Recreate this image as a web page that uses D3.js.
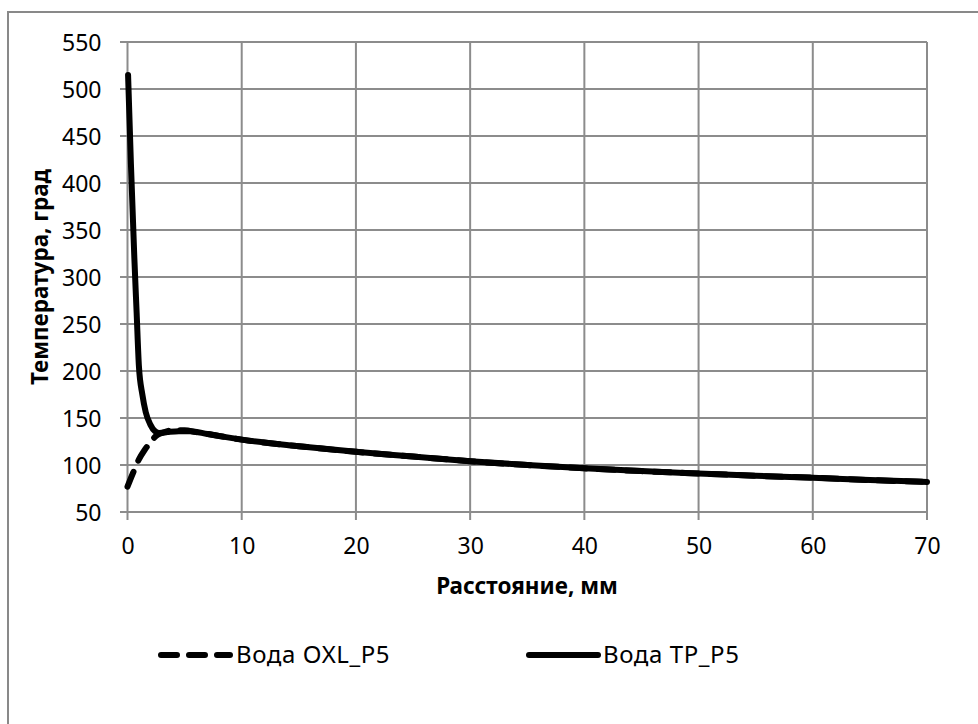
<!DOCTYPE html>
<html><head><meta charset="utf-8">
<script src="https://cdn.jsdelivr.net/npm/d3@7"></script>
<style>body{margin:0;background:#fff}svg{display:block}</style>
</head><body>
<script>
// Data
const tpX = [0.05, 0.3, 0.6, 0.8, 1.0, 1.3, 1.6, 2.0, 2.4, 2.8, 3.5, 4.5, 5.5, 7, 10, 15, 20, 25, 30, 35, 40, 45, 50, 55, 60, 65, 70];
const tpY = [515, 420, 320, 262, 205, 175, 156, 143, 136, 134, 135, 136, 136, 133, 127, 120, 114, 109, 104, 100, 96.5, 93.5, 91, 88.5, 86.5, 84, 82];
const oxlX = [0, 0.5, 1.0, 1.5, 2.0, 2.5, 3, 4, 5, 6, 7, 10, 15, 20, 25, 30, 35, 40, 45, 50, 55, 60, 65, 70];
const oxlY = [77, 92, 106, 116, 124, 131, 134, 137, 137, 135, 133, 127, 120, 114, 109, 104, 100, 96.5, 93.5, 91, 88.5, 86.5, 84, 82];
const xTicks = [0, 10, 20, 30, 40, 50, 60, 70];
const yTicks = [50, 100, 150, 200, 250, 300, 350, 400, 450, 500, 550];
const seriesNames = ["Вода OXL_P5", "Вода TP_P5"];
const xTitle = "Расстояние, мм";
const yTitle = "Температура, град";

const W = 978, H = 724;
const svg = d3.select("body").append("svg").attr("width", W).attr("height", H);
const font = "'Noto Sans', 'Open Sans', sans-serif";

svg.append("rect").attr("x", 8).attr("y", 12).attr("width", 1100).attr("height", 900)
  .attr("fill", "#fff").attr("stroke", "#898989").attr("stroke-width", 2);

const x = d3.scaleLinear().domain([0, 70]).range([127.5, 927]);
const y = d3.scaleLinear().domain([50, 550]).range([512, 42]);
const grid = "#8c8c8c";

// gridlines
svg.append("g").selectAll("line").data(yTicks).join("line")
  .attr("x1", 120).attr("x2", x(70)).attr("y1", d => y(d)).attr("y2", d => y(d))
  .attr("stroke", grid).attr("stroke-width", 2);
svg.append("g").selectAll("line").data(xTicks).join("line")
  .attr("y1", y(550)).attr("y2", 520).attr("x1", d => x(d)).attr("x2", d => x(d))
  .attr("stroke", grid).attr("stroke-width", 2);

// axes labels via d3 axis
const xAxis = svg.append("g").attr("transform", `translate(0,${y(50)})`)
  .call(d3.axisBottom(x).tickValues(xTicks).tickSize(0).tickPadding(26));
const yAxis = svg.append("g").attr("transform", `translate(${x(0)},0)`)
  .call(d3.axisLeft(y).tickValues(yTicks).tickSize(0).tickPadding(26));
[xAxis, yAxis].forEach(g => {
  g.select(".domain").remove();
  g.selectAll("text").attr("font-family", font).attr("font-size", 23).attr("fill", "#000");
});
yAxis.selectAll("text").attr("dy", "0.35em");

// titles
svg.append("text").attr("x", 527).attr("y", 594).attr("text-anchor", "middle")
  .attr("font-family", font).attr("font-weight", "bold").attr("font-size", 22.5).text(xTitle);
svg.append("text").attr("transform", `translate(48,277) rotate(-90)`).attr("text-anchor", "middle")
  .attr("font-family", font).attr("font-weight", "bold").attr("font-size", 22.5).text(yTitle);

// lines
const line = d3.line().x(d => x(d[0])).y(d => y(d[1])).curve(d3.curveMonotoneX);
const tp = tpX.map((v, i) => [v, tpY[i]]);
const oxl = oxlX.map((v, i) => [v, oxlY[i]]);
svg.append("path").datum(oxl).attr("d", line).attr("fill", "none").attr("stroke", "#000")
  .attr("stroke-width", 6).attr("stroke-linecap", "round").attr("stroke-dasharray", "16,12");
svg.append("path").datum(tp).attr("d", line).attr("fill", "none").attr("stroke", "#000")
  .attr("stroke-width", 6).attr("stroke-linecap", "round").attr("stroke-linejoin", "round");

// legend
const ly = 655;
svg.append("line").attr("x1", 161).attr("x2", 230).attr("y1", ly).attr("y2", ly)
  .attr("stroke", "#000").attr("stroke-width", 6).attr("stroke-linecap", "round").attr("stroke-dasharray", "16,12");
svg.append("text").attr("x", 236).attr("y", ly).attr("dy", "0.35em").attr("font-family", font)
  .attr("font-size", 24).attr("letter-spacing", 0.6).text(seriesNames[0]);
svg.append("line").attr("x1", 529).attr("x2", 598).attr("y1", ly).attr("y2", ly)
  .attr("stroke", "#000").attr("stroke-width", 6).attr("stroke-linecap", "round");
svg.append("text").attr("x", 603).attr("y", ly).attr("dy", "0.35em").attr("font-family", font)
  .attr("font-size", 24).attr("letter-spacing", 0.6).text(seriesNames[1]);
</script>
</body></html>
